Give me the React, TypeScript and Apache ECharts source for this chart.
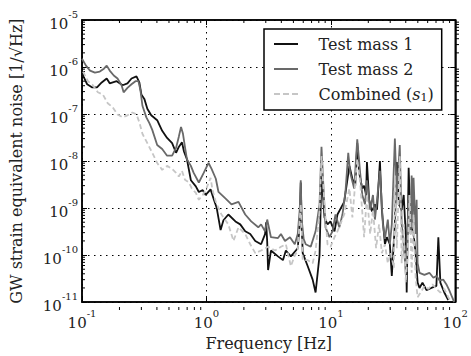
import React, { useEffect, useRef } from 'react';
import * as echarts from 'echarts';

// Test mass 1 (black)
const freqTM1 = [0.1, 0.11, 0.12, 0.132, 0.144, 0.158, 0.167, 0.19, 0.212, 0.232,
  0.25, 0.274, 0.289, 0.3, 0.317, 0.335, 0.36, 0.402, 0.441, 0.483,
  0.53, 0.57, 0.6, 0.636, 0.66, 0.697, 0.75, 0.822, 0.869, 0.934,
  0.987, 1.08, 1.14, 1.21, 1.3, 1.37, 1.5, 1.71, 1.87, 2.05,
  2.25, 2.47, 2.75, 2.96, 3.02, 3.08, 3.13, 3.3, 3.76, 4.12,
  4.35, 4.77, 5.42, 5.62, 5.73, 5.83, 5.94, 6.52, 7.14, 7.54,
  8.11, 8.41, 8.89, 9.4, 9.93, 10.7, 11.3, 12.8, 14.1, 14.9,
  15.7, 16.3, 16.9, 17.9, 18.5, 19.2, 19.5, 20.3, 21.4, 22.6,
  23.5, 24.8, 25.7, 27.2, 28.2, 29.8, 30.9, 32.7, 33.9, 35.2,
  37.1, 38.5, 40.0, 40.7, 42.2, 43.7, 46.2, 48.0, 49.8, 51.6,
  54.5, 58.7, 64.3, 70.5, 73.1, 75.9, 81.6, 87.8];
const noiseTM1 = [7.3e-7, 4.3e-7, 3.7e-7, 3.7e-7, 4.7e-7, 5.7e-7, 4.5e-7, 5.0e-7, 4.1e-7, 4.5e-7,
  5.7e-7, 6.3e-7, 4.7e-7, 2.6e-7, 2.1e-7, 1.3e-7, 9.4e-8, 7.4e-8, 4.4e-8, 3.1e-8,
  2.4e-8, 1.5e-8, 2.0e-8, 2.5e-8, 1.6e-8, 1.1e-8, 3.9e-9, 2.9e-9, 2.2e-9, 2.4e-9,
  1.9e-9, 2.5e-9, 1.6e-9, 1.0e-9, 3.4e-10, 5.5e-10, 7.3e-10, 5.2e-10, 4.5e-10, 3.2e-10,
  2.8e-10, 2.0e-10, 1.7e-10, 2.8e-10, 5.0e-10, 1.9e-10, 4.8e-11, 1.25e-10, 9.4e-11, 7.8e-11,
  1.25e-10, 9.4e-11, 1.4e-10, 4.5e-10, 3.5e-9, 4.5e-10, 1.1e-10, 5.8e-11, 3.0e-11, 1.6e-11,
  9.8e-11, 5.6e-9, 6.3e-10, 4.5e-10, 5.2e-10, 3.2e-10, 7.3e-10, 1.35e-9, 7.9e-9, 4.2e-9,
  3.0e-9, 2.4e-8, 5.6e-9, 2.6e-9, 3.0e-9, 1.9e-9, 9.5e-9, 1.5e-9, 8.4e-10, 1.2e-9,
  9.2e-10, 1.0e-8, 9.2e-10, 1.7e-10, 2.4e-10, 1.7e-10, 3.6e-11, 4.5e-10, 9.5e-9, 1.2e-9,
  9.2e-10, 1.9e-9, 2.8e-10, 1.6e-11, 7.2e-9, 4.5e-10, 2.8e-10, 1.1e-10, 2.6e-11, 2.0e-11,
  2.6e-11, 1.8e-11, 2.0e-11, 2.2e-11, 2.4e-10, 2.6e-11, 1.6e-11, 1.1e-11];

// Test mass 2 (dark grey)
const freqTM2 = [0.1, 0.1076, 0.116, 0.127, 0.139, 0.15, 0.158, 0.167, 0.18, 0.193,
  0.208, 0.216, 0.232, 0.25, 0.269, 0.284, 0.295, 0.306, 0.329, 0.348,
  0.367, 0.402, 0.441, 0.483, 0.53, 0.57, 0.6, 0.625, 0.648, 0.672,
  0.697, 0.75, 0.79, 0.869, 0.951, 1.04, 1.1, 1.19, 1.25, 1.42,
  1.59, 1.81, 2.05, 2.29, 2.61, 2.75, 2.96, 3.08, 3.3, 3.76,
  3.97, 4.28, 4.69, 5.13, 5.42, 5.62, 5.73, 5.83, 6.05, 6.28,
  6.89, 7.54, 8.11, 8.41, 8.73, 9.06, 9.75, 10.3, 10.9, 11.7,
  12.4, 13.1, 13.8, 14.3, 15.4, 16.3, 17.2, 17.9, 18.8, 19.5,
  20.7, 21.8, 22.6, 23.5, 24.8, 26.2, 27.2, 28.7, 29.8, 30.9,
  32.7, 33.9, 35.8, 37.1, 38.5, 40.0, 40.7, 42.2, 43.7, 44.6,
  45.4, 46.2, 48.0, 48.9, 49.8, 51.6, 56.5, 61.9, 66.7, 70.5,
  74.5, 80.2, 84.7, 89.4, 94.4, 98];
const noiseTM2 = [1.5e-6, 1.07e-6, 8.4e-7, 7.6e-7, 8.0e-7, 9.2e-7, 1.07e-6, 8.4e-7, 6.6e-7, 5.7e-7,
  4.1e-7, 2.9e-7, 3.6e-7, 4.3e-7, 5.0e-7, 5.0e-7, 3.2e-7, 1.5e-7, 8.5e-8, 6.4e-8,
  4.6e-8, 2.2e-8, 1.8e-8, 1.3e-8, 1.3e-8, 1.9e-8, 3.3e-8, 5.3e-8, 3.8e-8, 2.0e-8,
  1.1e-8, 7.9e-9, 5.6e-9, 3.5e-9, 5.6e-9, 9.1e-9, 6.8e-9, 4.2e-9, 2.2e-9, 1.6e-9,
  1.2e-9, 1.35e-9, 7.3e-10, 5.2e-10, 3.9e-10, 4.5e-10, 3.2e-10, 5.7e-10, 2.4e-10, 2.3e-10,
  2.8e-10, 2.0e-10, 2.4e-10, 1.7e-10, 2.8e-10, 9.2e-10, 3.9e-9, 5.7e-10, 2.2e-10, 1.7e-10,
  1.5e-10, 3.2e-10, 1.2e-9, 2.0e-8, 2.6e-9, 3.9e-10, 2.4e-10, 3.2e-10, 7.3e-10, 3.9e-10,
  7.3e-10, 2.2e-9, 1.5e-8, 5.6e-9, 2.6e-9, 2.9e-8, 5.6e-9, 1.9e-9, 1.2e-9, 3.9e-9,
  9.2e-10, 1.9e-9, 5.7e-10, 1.5e-9, 6.2e-9, 4.5e-10, 2.2e-10, 5.7e-10, 1.7e-10, 4.5e-10,
  3.0e-8, 1.9e-9, 2.2e-8, 4.5e-10, 1.7e-10, 4.2e-11, 1.1e-10, 1.9e-9, 2.8e-10, 4.9e-9,
  3.6e-10, 4.4e-9, 2.8e-10, 1.5e-9, 6.7e-11, 4.2e-11, 3.8e-11, 4.2e-11, 3.3e-11, 3.6e-11,
  2.9e-11, 3.0e-11, 2.4e-11, 1.8e-11, 1.27e-11, 1.0e-11];

// Combined (s1) (light grey, dashed)
const freqComb = [0.102, 0.1116, 0.1223, 0.134, 0.147, 0.161, 0.176, 0.193, 0.212, 0.232,
  0.254, 0.274, 0.289, 0.306, 0.335, 0.367, 0.402, 0.441, 0.483, 0.53,
  0.57, 0.6, 0.636, 0.672, 0.723, 0.764, 0.822, 0.869, 0.934, 1.0,
  1.08, 1.12, 1.19, 1.32, 1.5, 1.65, 1.81, 2.05, 2.25, 2.47,
  2.75, 3.13, 3.56, 3.97, 4.35, 4.77, 5.13, 5.42, 5.73, 5.94,
  6.52, 7.14, 7.54, 8.11, 8.41, 8.89, 9.4, 9.93, 10.7, 11.3,
  12.8, 14.1, 14.9, 16.3, 17.2, 18.5, 19.5, 20.7, 21.8, 23.1,
  24.4, 25.7, 27.2, 28.7, 30.3, 32.1, 32.7, 33.9, 35.8, 37.1,
  38.5, 40.0, 41.4, 43.0, 44.6, 46.2, 48.0, 49.8, 52.6, 56.5,
  60.8, 65.5, 70.5, 75.9, 81.6, 87.8, 92.8];
const noiseComb = [8.0e-7, 5.0e-7, 4.1e-7, 2.9e-7, 2.6e-7, 1.7e-7, 1.4e-7, 9.8e-8, 8.5e-8, 9.4e-8,
  1.08e-7, 9.8e-8, 6.7e-8, 3.8e-8, 2.4e-8, 1.5e-8, 9.1e-9, 6.5e-9, 7.9e-9, 6.8e-9,
  5.6e-9, 4.7e-9, 6.2e-9, 4.0e-9, 3.5e-9, 2.6e-9, 2.1e-9, 1.5e-9, 1.9e-9, 2.6e-9,
  4.4e-9, 2.4e-9, 1.35e-9, 7.3e-10, 4.5e-10, 2.0e-10, 3.9e-10, 2.8e-10, 1.7e-10, 1.1e-10,
  1.25e-10, 1.5e-10, 1.25e-10, 1.5e-10, 1.7e-10, 5.8e-11, 9.8e-11, 1.25e-10, 1.2e-9, 7.8e-11,
  7.8e-11, 6.7e-11, 1.25e-10, 8.4e-10, 1.27e-8, 1.2e-9, 1.7e-10, 1.5e-10, 2.4e-10, 3.2e-10,
  7.3e-10, 2.6e-9, 6.3e-10, 1.1e-8, 3.5e-9, 2.4e-10, 1.9e-9, 2.8e-10, 9.2e-10, 1.4e-10,
  4.5e-10, 1.1e-10, 1.7e-10, 6.7e-11, 1.1e-10, 5.3e-11, 4.9e-9, 1.4e-10, 1.27e-8, 6.7e-11,
  4.5e-10, 2.6e-11, 1.1e-10, 1.9e-9, 4.2e-11, 7.3e-10, 3.3e-11, 1.27e-11, 1.6e-11, 2.2e-11,
  1.9e-11, 2.4e-11, 1.9e-11, 1.6e-11, 1.9e-11, 1.27e-11, 1.0e-11];

const seriesNames = ['Test mass 1', 'Test mass 2', 'Combined (s₁)'];
const xMin = 0.1;
const xMax = 100;
const yMin = 1e-11;
const yMax = 1e-5;
const minorMultipliers = [2, 3, 4, 5, 6, 7, 8, 9];

const FONT = 'DejaVu Serif';
const SOLID_ICON = 'path://M0,0h24v2h-24z';
const DASH_ICON = 'path://M0,0h6v2h-6z M9,0h6v2h-6z M18,0h6v2h-6z';

function pairs(f: number[], v: number[]) {
  return f.map((x, i) => [x, v[i]]);
}

function expLabel(v: number) {
  const e = Math.round(Math.log10(v));
  return `{b|10}{s|${e}}`;
}

export default function App() {
  const ref = useRef<HTMLDivElement>(null);
  useEffect(() => {
    const chart = echarts.init(ref.current!, null, { renderer: 'svg' });
    const rich = {
      b: { fontFamily: FONT, fontSize: 15, color: '#222', verticalAlign: 'bottom', lineHeight: 22 },
      s: { fontFamily: FONT, fontSize: 10, color: '#222', verticalAlign: 'top', lineHeight: 22 },
    };
    const tickStyle = { show: true, inside: true, length: 5, lineStyle: { color: '#000', width: 1 } };
    const split = { show: true, lineStyle: { color: '#000', width: 1, type: [1.5, 4.5] as any } };
    const option: any = {
      animation: false,
      grid: { left: 82, right: 12, top: 20, bottom: 46, show: true, borderColor: '#000', borderWidth: 1.5 },
      xAxis: [
        {
          type: 'log', logBase: 10, min: xMin, max: xMax, splitNumber: 3,
          axisLine: { show: true, lineStyle: { color: '#000', width: 1.5 } },
          axisTick: tickStyle,
          splitLine: split,
          axisLabel: { formatter: expLabel, rich, margin: 6 },
          name: 'Frequency [Hz]', nameLocation: 'middle', nameGap: 29,
          nameTextStyle: { fontFamily: FONT, fontSize: 16, color: '#222' },
        },
        {
          type: 'log', logBase: 10, min: xMin, max: xMax, splitNumber: 3, position: 'top',
          axisLine: { show: true, lineStyle: { color: '#000', width: 1.5 } },
          axisTick: tickStyle, splitLine: { show: false }, axisLabel: { show: false },
        },
      ],
      yAxis: [
        {
          type: 'log', logBase: 10, min: yMin, max: yMax, splitNumber: 6,
          axisLine: { show: true, lineStyle: { color: '#000', width: 1.5 } },
          axisTick: tickStyle,
          splitLine: split,
          axisLabel: { formatter: expLabel, rich, margin: 4 },
          name: 'GW strain equivalent noise [1/√Hz]', nameLocation: 'middle', nameGap: 58,
          nameTextStyle: { fontFamily: FONT, fontSize: 16, color: '#222' },
        },
        {
          type: 'log', logBase: 10, min: yMin, max: yMax, splitNumber: 6, position: 'right',
          axisLine: { show: true, lineStyle: { color: '#000', width: 1.5 } },
          axisTick: tickStyle, splitLine: { show: false }, axisLabel: { show: false },
        },
      ],
      legend: {
        orient: 'vertical', left: 264, top: 29,
        data: [
          { name: seriesNames[0], icon: SOLID_ICON },
          { name: seriesNames[1], icon: SOLID_ICON },
          { name: seriesNames[2], icon: DASH_ICON },
        ],
        backgroundColor: '#fff', borderColor: '#000', borderWidth: 1.5, borderRadius: 0,
        padding: [6, 8, 7, 10], itemGap: 7, itemWidth: 27, itemHeight: 2,
        textStyle: {
          fontFamily: FONT, fontSize: 16, color: '#222', padding: [0, 0, 0, 14], lineHeight: 18,
          rich: {
            n: { fontFamily: FONT, fontSize: 16, color: '#222' },
            i: { fontFamily: FONT, fontSize: 16, fontStyle: 'italic', color: '#222' },
            sub: { fontFamily: FONT, fontSize: 11, color: '#222', verticalAlign: 'bottom', padding: [6, 0, 0, 0] },
          },
        },
        formatter: (name: string) => (name === seriesNames[2] ? '{n|Combined (}{i|s}{sub|1}{n|)}' : name),
      },
      series: [
        {
          name: seriesNames[0], type: 'line', data: pairs(freqTM1, noiseTM1), showSymbol: false, symbol: 'none',
          lineStyle: { color: '#111', width: 1.8 }, itemStyle: { color: '#111' }, clip: true,
        },
        {
          name: seriesNames[1], type: 'line', data: pairs(freqTM2, noiseTM2), showSymbol: false, symbol: 'none',
          lineStyle: { color: '#696969', width: 1.8 }, itemStyle: { color: '#696969' }, clip: true,
        },
        {
          name: seriesNames[2], type: 'line', data: pairs(freqComb, noiseComb), showSymbol: false, symbol: 'none',
          lineStyle: { color: '#c6c6c6', width: 1.8, type: [5, 3] }, itemStyle: { color: '#c6c6c6' }, clip: true,
        },
      ],
    };
    chart.setOption(option);

    // minor ticks at 2..9 x 10^k, positioned through the axes' own scales
    const graphics: any[] = [];
    const top = 20, bottom = 356 - 46, left = 82, right = 471 - 12;
    for (let d = -1; d < 2; d++) {
      for (const m of minorMultipliers) {
        const x = chart.convertToPixel({ xAxisIndex: 0 }, m * Math.pow(10, d));
        graphics.push({ type: 'line', shape: { x1: x, y1: bottom, x2: x, y2: bottom - 3 }, style: { stroke: '#000', lineWidth: 1 }, silent: true });
        graphics.push({ type: 'line', shape: { x1: x, y1: top, x2: x, y2: top + 3 }, style: { stroke: '#000', lineWidth: 1 }, silent: true });
      }
    }
    for (let d = -11; d < -5; d++) {
      for (const m of minorMultipliers) {
        const y = chart.convertToPixel({ yAxisIndex: 0 }, m * Math.pow(10, d));
        graphics.push({ type: 'line', shape: { x1: left, y1: y, x2: left + 3, y2: y }, style: { stroke: '#000', lineWidth: 1 }, silent: true });
        graphics.push({ type: 'line', shape: { x1: right, y1: y, x2: right - 3, y2: y }, style: { stroke: '#000', lineWidth: 1 }, silent: true });
      }
    }
    chart.setOption({ graphic: graphics });
    return () => chart.dispose();
  }, []);
  return <div ref={ref} style={{ position: 'absolute', left: 0, top: 0, width: 471, height: 356 }} />;
}
